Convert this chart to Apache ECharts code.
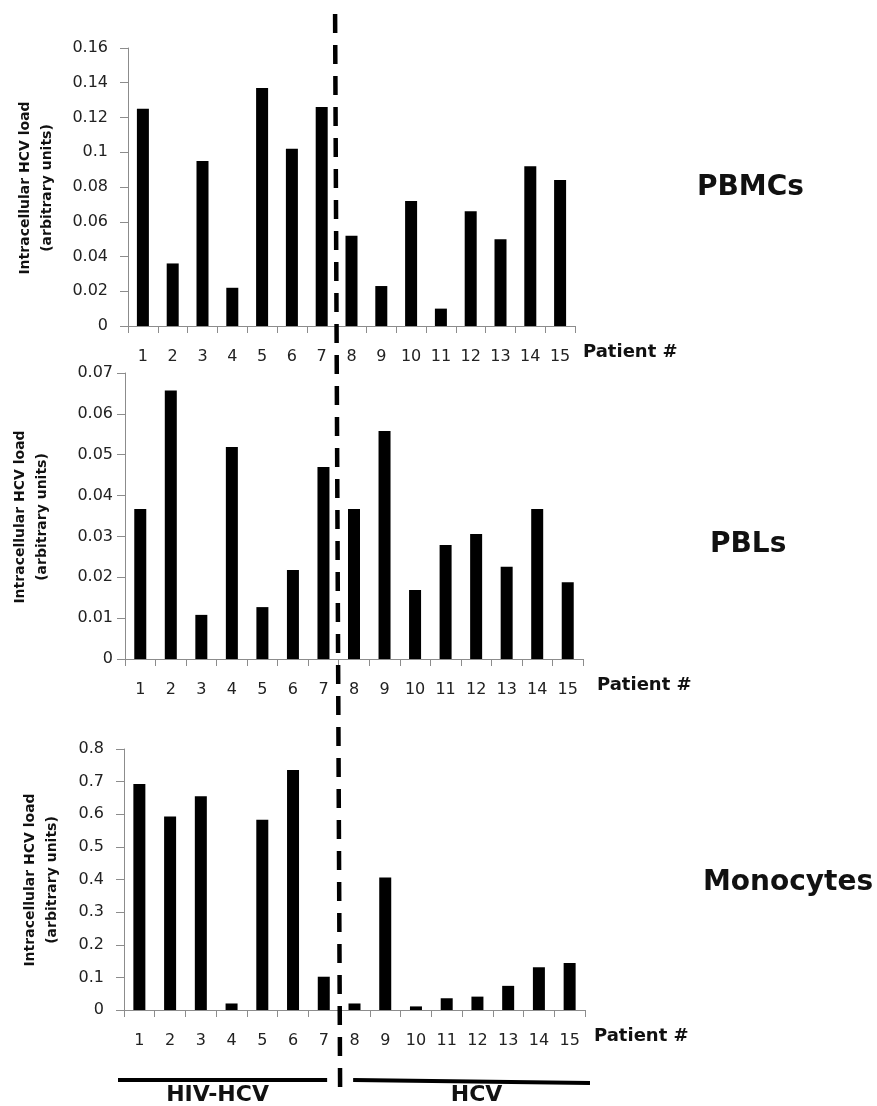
<!DOCTYPE html>
<html>
<head>
<meta charset="utf-8">
<script src="https://cdn.jsdelivr.net/npm/echarts@6/dist/echarts.min.js"></script>
<style>
html,body{margin:0;padding:0;background:#fff;}
#main{width:877px;height:1106px;}
</style>
</head>
<body>
<div id="main"></div>
<script>
// ---- data ----
const patients = ['1','2','3','4','5','6','7','8','9','10','11','12','13','14','15'];
const pbmcValues = [0.125,0.036,0.095,0.022,0.137,0.102,0.126,0.052,0.023,0.072,0.010,0.066,0.050,0.092,0.084];
const pblValues = [0.0367,0.0657,0.0108,0.0519,0.0127,0.0218,0.0470,0.0367,0.0558,0.0169,0.0279,0.0306,0.0226,0.0367,0.0188];
const monoValues = [0.693,0.593,0.655,0.020,0.583,0.736,0.102,0.020,0.406,0.011,0.036,0.041,0.074,0.131,0.144];
const panelTitles = ['PBMCs','PBLs','Monocytes'];
const yMax = [0.16, 0.07, 0.8];
const yInterval = [0.02, 0.01, 0.1];
const groupLabels = ['HIV-HCV','HCV'];
const yAxisTitle = 'Intracellular HCV load\n(arbitrary units)';
const xAxisTitle = 'Patient #';

// ---- layout ----
const grids = [
  {left:128, top:48, width:447, height:278},
  {left:125, top:373, width:458, height:286},
  {left:124, top:749, width:461, height:261}
];
const yLabelMargin = [20, 12, 20];
const xNameGap = [8, 14, 9];
const yNamePos = [[36,188],[31,517],[41,880]];
const titlePos = [[697,188],[710,545],[703,883]];
const seriesData = [pbmcValues, pblValues, monoValues];

const axisGray = '#8c8c8c';
const labelFont = 'DejaVu Sans';

const chart = echarts.init(document.getElementById('main'), null, {renderer:'canvas'});

const option = {
  animation:false,
  backgroundColor:'#fff',
  grid: grids.map(g => Object.assign({containLabel:false}, g)),
  xAxis: grids.map((g,i) => ({
    type:'category', gridIndex:i, data:patients, boundaryGap:true,
    axisLine:{show:true, lineStyle:{color:axisGray, width:1}},
    axisTick:{show:true, alignWithLabel:false, length:7, lineStyle:{color:axisGray}},
    axisLabel:{margin:23, color:'#222', fontFamily:labelFont, fontSize:16, interval:0},
    splitLine:{show:false},
    name:xAxisTitle, nameLocation:'end', nameGap:xNameGap[i],
    nameTextStyle:{fontFamily:labelFont, fontWeight:'bold', fontSize:18, color:'#111',
                   verticalAlign:'top', align:'left', padding:[17,0,0,0]}
  })),
  yAxis: grids.map((g,i) => ({
    type:'value', gridIndex:i, min:0, max:yMax[i], interval:yInterval[i],
    axisLine:{show:true, lineStyle:{color:axisGray, width:1}},
    axisTick:{show:true, length:8, lineStyle:{color:axisGray}},
    axisLabel:{margin:yLabelMargin[i], color:'#222', fontFamily:labelFont, fontSize:16,
               formatter: v => String(+v.toFixed(4))},
    splitLine:{show:false}
  })),
  series: seriesData.map((d,i) => ({
    type:'bar', xAxisIndex:i, yAxisIndex:i, data:d, barWidth:12,
    itemStyle:{color:'#000'}, silent:true
  }))
};
chart.setOption(option);

// ---- annotations derived from the axes ----
function boundaryX(gi){
  const a = chart.convertToPixel({xAxisIndex:gi}, patients[6]);
  const b = chart.convertToPixel({xAxisIndex:gi}, patients[7]);
  return (a+b)/2;
}
const bTop = boundaryX(0), bBot = boundaryX(2);
const g2 = grids[2];
const lineY = 1081;
const graphics = [];

// dashed separator
graphics.push({
  type:'polyline', silent:true, z:10,
  shape:{points:[[bTop-1.5, 14],[bBot+1, 1095]]},
  style:{stroke:'#000', lineWidth:4.5, lineDash:[19,12], fill:null}
});
// group lines
const hivStart = g2.left-6, hivEnd = bBot-12;
const hcvStart = bBot+14, hcvEnd = g2.left+g2.width+5;
graphics.push({type:'line', silent:true, shape:{x1:hivStart,y1:lineY-1,x2:hivEnd,y2:lineY-1}, style:{stroke:'#000', lineWidth:4}});
graphics.push({type:'line', silent:true, shape:{x1:hcvStart,y1:lineY-1,x2:hcvEnd,y2:lineY+2}, style:{stroke:'#000', lineWidth:4}});
graphics.push({type:'text', silent:true, x:(hivStart+hivEnd)/2-5, y:1095,
  style:{text:groupLabels[0], font:'bold 22px "DejaVu Sans"', fill:'#111', align:'center', verticalAlign:'middle'}});
graphics.push({type:'text', silent:true, x:(hcvStart+hcvEnd)/2+5, y:1095,
  style:{text:groupLabels[1], font:'bold 22px "DejaVu Sans"', fill:'#111', align:'center', verticalAlign:'middle'}});
// panel titles and y-axis titles
for (let i=0;i<3;i++){
  graphics.push({type:'text', silent:true, x:titlePos[i][0], y:titlePos[i][1],
    style:{text:panelTitles[i], font:'bold 28px "DejaVu Sans"', fill:'#111', align:'left', verticalAlign:'middle'}});
  graphics.push({type:'text', silent:true, x:yNamePos[i][0], y:yNamePos[i][1], rotation:Math.PI/2,
    style:{text:yAxisTitle, font:'bold 14px "DejaVu Sans"', fill:'#111', align:'center', verticalAlign:'middle', lineHeight:22}});
}
chart.setOption({graphic:graphics});
</script>
</body>
</html>
